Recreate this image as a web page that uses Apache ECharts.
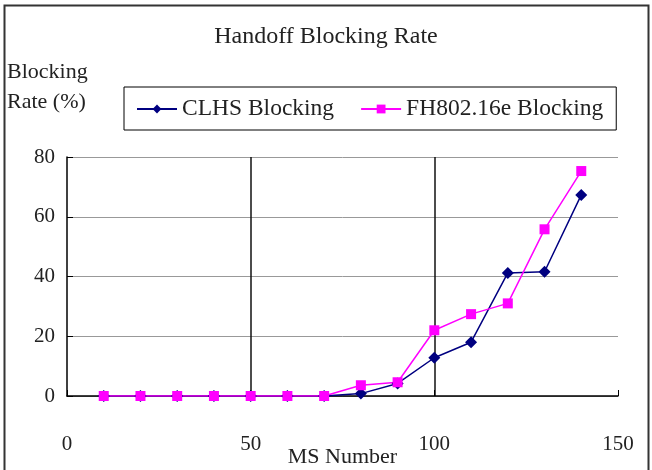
<!DOCTYPE html>
<html>
<head>
<meta charset="utf-8">
<script src="https://cdn.jsdelivr.net/npm/echarts@6/dist/echarts.min.js"></script>
<style>html,body{margin:0;padding:0;background:#fff}#c{width:652px;height:470px}</style>
</head>
<body>
<div id="c"></div>
<script>
var msNumbers = [10, 20, 30, 40, 50, 60, 70, 80, 90, 100, 110, 120, 130, 140];
var clhsBlocking = [0, 0, 0, 0, 0, 0, 0, 0.8, 4.2, 12.8, 18, 41.2, 41.6, 67.3];
var fhBlocking = [0, 0, 0, 0, 0, 0, 0, 3.6, 4.6, 22, 27.4, 31, 55.8, 75.3];
var xTicks = [0, 50, 100, 150];
var yTicks = [0, 20, 40, 60, 80];

var FONT = '"Liberation Serif", "DejaVu Serif", serif';
function pairs(xs, ys) { return xs.map(function (x, i) { return [x, ys[i]]; }); }

var chart = echarts.init(document.getElementById('c'), null, { renderer: 'canvas' });
chart.setOption({
  animation: false,
  backgroundColor: '#ffffff',
  title: [
    { text: 'Handoff Blocking Rate', left: 'center', top: 20,
      textStyle: { fontFamily: FONT, fontSize: 24, fontWeight: 'normal', color: '#222' } },
    { text: 'Blocking\nRate (%)', left: 2, top: 52,
      textStyle: { fontFamily: FONT, fontSize: 22, fontWeight: 'normal', color: '#222', lineHeight: 30 } }
  ],
  graphic: [
    { type: 'rect', left: 2, top: 3, shape: { width: 644, height: 480 },
      style: { fill: 'none', stroke: '#333', lineWidth: 2 }, silent: true }
  ],
  legend: {
    left: 124, top: 87,
    padding: [10, 13, 9, 12],
    borderColor: '#000', borderWidth: 1,
    itemWidth: 40, itemHeight: 11, itemGap: 26,
    textStyle: { fontFamily: FONT, fontSize: 23.5, color: '#222' },
    data: ['CLHS Blocking', 'FH802.16e Blocking']
  },
  grid: { left: 67, right: 34, top: 157, bottom: 74, containLabel: false, outerBoundsMode: 'none' },
  xAxis: {
    type: 'value', min: xTicks[0], max: xTicks[xTicks.length - 1], interval: 50,
    name: 'MS Number', nameLocation: 'middle', nameGap: 50, nameMoveOverlap: false,
    nameTextStyle: { fontFamily: FONT, fontSize: 22, color: '#222' },
    axisLine: { show: true, lineStyle: { color: '#000', width: 1.5 } },
    axisTick: { show: true, inside: true, length: 6, lineStyle: { color: '#000' } },
    axisLabel: { fontFamily: FONT, fontSize: 21, color: '#222', margin: 38 },
    splitLine: { show: true, showMinLine: false, showMaxLine: false, lineStyle: { color: '#111', width: 1.5 } }
  },
  yAxis: {
    type: 'value', min: yTicks[0], max: yTicks[yTicks.length - 1], interval: 20,
    axisLine: { show: true, lineStyle: { color: '#000', width: 1.5 } },
    axisTick: { show: true, inside: true, length: 6, lineStyle: { color: '#000' } },
    axisLabel: { fontFamily: FONT, fontSize: 21, color: '#222', margin: 12 },
    splitLine: { show: true, lineStyle: { color: '#999', width: 1 } }
  },
  series: [
    { name: 'CLHS Blocking', type: 'line', data: pairs(msNumbers, clhsBlocking),
      symbol: 'diamond', symbolSize: 12,
      itemStyle: { color: '#000080' }, lineStyle: { color: '#000080', width: 1.5 } },
    { name: 'FH802.16e Blocking', type: 'line', data: pairs(msNumbers, fhBlocking),
      symbol: 'rect', symbolSize: 10,
      itemStyle: { color: '#ff00ff' }, lineStyle: { color: '#ff00ff', width: 1.5 } }
  ]
});
</script>
</body>
</html>
